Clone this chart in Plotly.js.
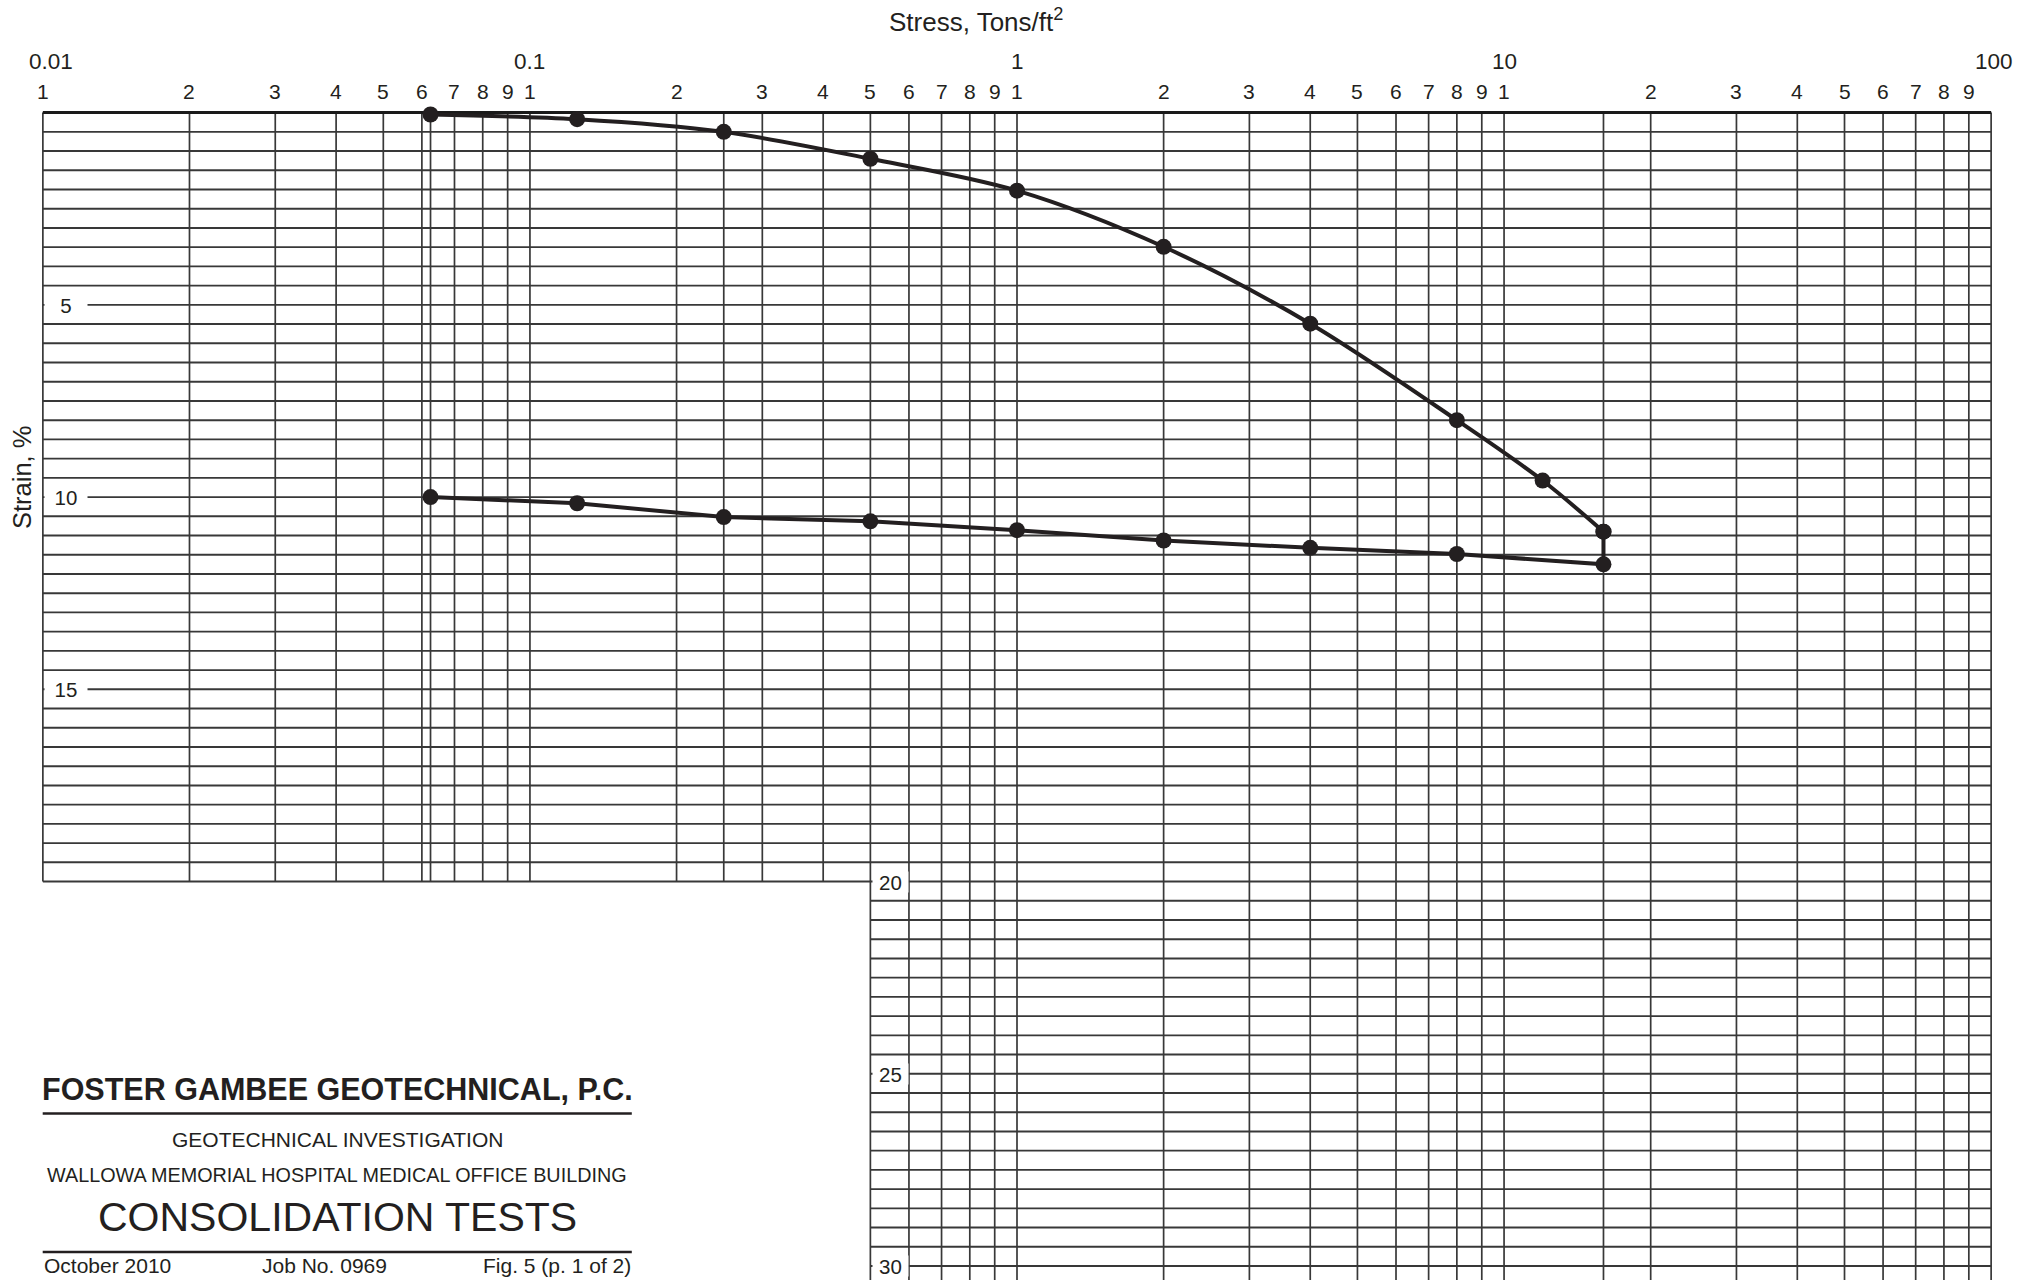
<!DOCTYPE html>
<html><head><meta charset="utf-8">
<script src="https://cdn.plot.ly/plotly-3.0.1.min.js"></script>
<style>html,body{margin:0;padding:0;background:#fff;overflow:hidden}</style>
</head><body><div id="chart" style="width:2030px;height:1280px"></div>
<script>
// ---------------- data ----------------
const loadStress   = [0.0625, 0.125, 0.25, 0.5, 1, 2, 4, 8, 12, 16];
const loadStrain   = [0.05, 0.17, 0.5, 1.2, 2.03, 3.49, 5.49, 8.0, 9.57, 10.9];
const unloadStress = [16, 16, 8, 4, 2, 1, 0.5, 0.25, 0.125, 0.0625];
const unloadStrain = [10.9, 11.75, 11.48, 11.32, 11.13, 10.86, 10.63, 10.52, 10.16, 10.0];

// ---------------- axis / grid definitions ----------------
const decadeStarts  = [0.01, 0.1, 1, 10];
const decadeValues  = [0.01, 0.1, 1, 10, 100];
const decadeLabels  = ['0.01', '0.1', '1', '10', '100'];
const cycleDigits   = [1, 2, 3, 4, 5, 6, 7, 8, 9];
const extraGridStress = [0.0625, 0.25, 16];
const strainLabels  = [5, 10, 15, 20, 25, 30];
const strainStep    = 0.5;
const strainLast    = 30.5;
const upperStrainMax = 20;   // left block of paper ends here
const lowerStressMin = 0.5;  // lower block of paper starts here
const stressMin = 0.01, stressMax = 100;

const titleBlock = {
  firm: 'FOSTER GAMBEE GEOTECHNICAL, P.C.',
  line1: 'GEOTECHNICAL INVESTIGATION',
  line2: 'WALLOWA MEMORIAL HOSPITAL MEDICAL OFFICE BUILDING',
  title: 'CONSOLIDATION TESTS',
  date: 'October 2010',
  job: 'Job No. 0969',
  fig: 'Fig. 5 (p. 1 of 2)'
};

// ---------------- layout geometry ----------------
const W = 2030, H = 1280, ML = 38, MR = 34, MT = 105, MB = 0;
const PW = W - ML - MR, PH = H - MT - MB;
const xp = px => (px - ML) / PW;          // page px -> paper x
const yp = py => (H - MB - py) / PH;      // page px -> paper y
const INK = '#231f20', GRID = '#383838';
const FONT = 'Liberation Sans, Arial, Helvetica, sans-serif';

// ---------------- grid shapes ----------------
const shapes = [];
const nLines = Math.round(strainLast / strainStep);
for (let k = 0; k <= nLines; k++) {
  const y = k * strainStep;
  const x0 = y <= upperStrainMax + 1e-9 ? stressMin : lowerStressMin;
  shapes.push({type: 'line', xref: 'x', yref: 'y', layer: 'below',
    x0: x0, x1: stressMax, y0: y, y1: y, line: {color: GRID, width: 1.9}});
}
const vx = [];
decadeStarts.forEach(d => cycleDigits.forEach(m => vx.push(+(d * m).toPrecision(6))));
vx.push(stressMax);
extraGridStress.forEach(v => vx.push(v));
vx.forEach(x => {
  const y1 = x >= lowerStressMin - 1e-9 ? strainLast : upperStrainMax;
  shapes.push({type: 'line', xref: 'x', yref: 'y', layer: 'below',
    x0: x, x1: x, y0: 0, y1: y1, line: {color: GRID, width: 1.7}});
});
shapes.push({type: 'line', xref: 'x', yref: 'y', layer: 'below',
  x0: stressMin, x1: stressMax, y0: 0, y1: 0, line: {color: '#1a1a1a', width: 3}});

// title-block rules
[1113.4, 1252].forEach(py => shapes.push({type: 'line', xref: 'paper', yref: 'paper',
  x0: xp(42.7), x1: xp(631.8), y0: yp(py), y1: yp(py), line: {color: INK, width: 2.5}}));

// ---------------- annotations ----------------
const ann = [];
const txt = (o) => Object.assign({showarrow: false, borderpad: 0,
  font: {family: FONT, size: 20, color: INK}}, o);

// decade labels (top row)
decadeValues.forEach((v, i) => ann.push(txt({
  text: decadeLabels[i], xref: 'x', x: Math.log10(v), yref: 'paper', y: yp(61.5),
  xanchor: 'center', yanchor: 'middle', xshift: i === 0 ? 8 : (i === 4 ? 3 : 0),
  font: {family: FONT, size: 22.5, color: INK}})));
// cycle digits (second row)
decadeStarts.forEach(d => cycleDigits.forEach(m => ann.push(txt({
  text: String(m), xref: 'x', x: Math.log10(d * m), yref: 'paper', y: yp(91),
  xanchor: 'center', yanchor: 'middle', font: {family: FONT, size: 21, color: INK}}))));

// strain labels with white boxes
strainLabels.forEach(v => {
  const upper = v < upperStrainMax;
  ann.push(txt({text: String(v), xref: 'x', x: Math.log10(upper ? stressMin : lowerStressMin),
    yref: 'y', y: v, xanchor: 'left', yanchor: 'middle', xshift: 1.5,
    width: upper ? 42 : 35, height: 20, bgcolor: '#ffffff', align: 'center',
    font: {family: FONT, size: 20.5, color: INK}}));
});

// axis titles
ann.push(txt({text: 'Stress, Tons/ft<sup>2</sup>', xref: 'paper', x: xp(976), yref: 'paper', y: yp(21),
  xanchor: 'center', yanchor: 'middle', font: {family: FONT, size: 26, color: INK}}));
ann.push(txt({text: 'Strain, %', xref: 'paper', x: xp(22), yref: 'paper', y: yp(478),
  xanchor: 'center', yanchor: 'middle', textangle: -90, font: {family: FONT, size: 25.5, color: INK}}));

// title block
const cx = xp(337);
ann.push(txt({text: '<b>' + titleBlock.firm + '</b>', xref: 'paper', x: cx, yref: 'paper', y: yp(1089),
  xanchor: 'center', yanchor: 'middle', font: {family: FONT, size: 30.5, color: INK}}));
ann.push(txt({text: titleBlock.line1, xref: 'paper', x: cx, yref: 'paper', y: yp(1139),
  xanchor: 'center', yanchor: 'middle', font: {family: FONT, size: 21, color: INK}}));
ann.push(txt({text: titleBlock.line2, xref: 'paper', x: cx, yref: 'paper', y: yp(1175),
  xanchor: 'center', yanchor: 'middle', font: {family: FONT, size: 19.8, color: INK}}));
ann.push(txt({text: titleBlock.title, xref: 'paper', x: cx, yref: 'paper', y: yp(1217),
  xanchor: 'center', yanchor: 'middle', font: {family: FONT, size: 41, color: INK}}));
ann.push(txt({text: titleBlock.date, xref: 'paper', x: xp(42.7), yref: 'paper', y: yp(1265),
  xanchor: 'left', yanchor: 'middle', font: {family: FONT, size: 21, color: INK}}));
ann.push(txt({text: titleBlock.job, xref: 'paper', x: xp(324.5), yref: 'paper', y: yp(1265),
  xanchor: 'center', yanchor: 'middle', font: {family: FONT, size: 21, color: INK}}));
ann.push(txt({text: titleBlock.fig, xref: 'paper', x: xp(631.8), yref: 'paper', y: yp(1265),
  xanchor: 'right', yanchor: 'middle', font: {family: FONT, size: 21, color: INK}}));

// ---------------- traces ----------------
const traces = [
  {x: loadStress, y: loadStrain, type: 'scatter', mode: 'lines+markers', name: 'Loading',
   line: {color: INK, width: 4, shape: 'spline', smoothing: 0.9},
   marker: {color: INK, size: 16}, cliponaxis: false, showlegend: false},
  {x: unloadStress, y: unloadStrain, type: 'scatter', mode: 'lines+markers', name: 'Unloading',
   line: {color: INK, width: 4, shape: 'linear'},
   marker: {color: INK, size: 16}, cliponaxis: false, showlegend: false}
];

const layout = {
  width: W, height: H, margin: {l: ML, r: MR, t: MT, b: MB, pad: 0},
  paper_bgcolor: '#ffffff', plot_bgcolor: '#ffffff', showlegend: false,
  xaxis: {type: 'log', range: [Math.log10(stressMin) - 0.01, Math.log10(stressMax) + 0.01],
    showgrid: false, zeroline: false, showline: false, showticklabels: false, ticks: ''},
  yaxis: {range: [30.364, -0.198], showgrid: false, zeroline: false, showline: false,
    showticklabels: false, ticks: ''},
  shapes: shapes, annotations: ann
};
Plotly.newPlot('chart', traces, layout, {displayModeBar: false, staticPlot: true});
</script></body></html>
